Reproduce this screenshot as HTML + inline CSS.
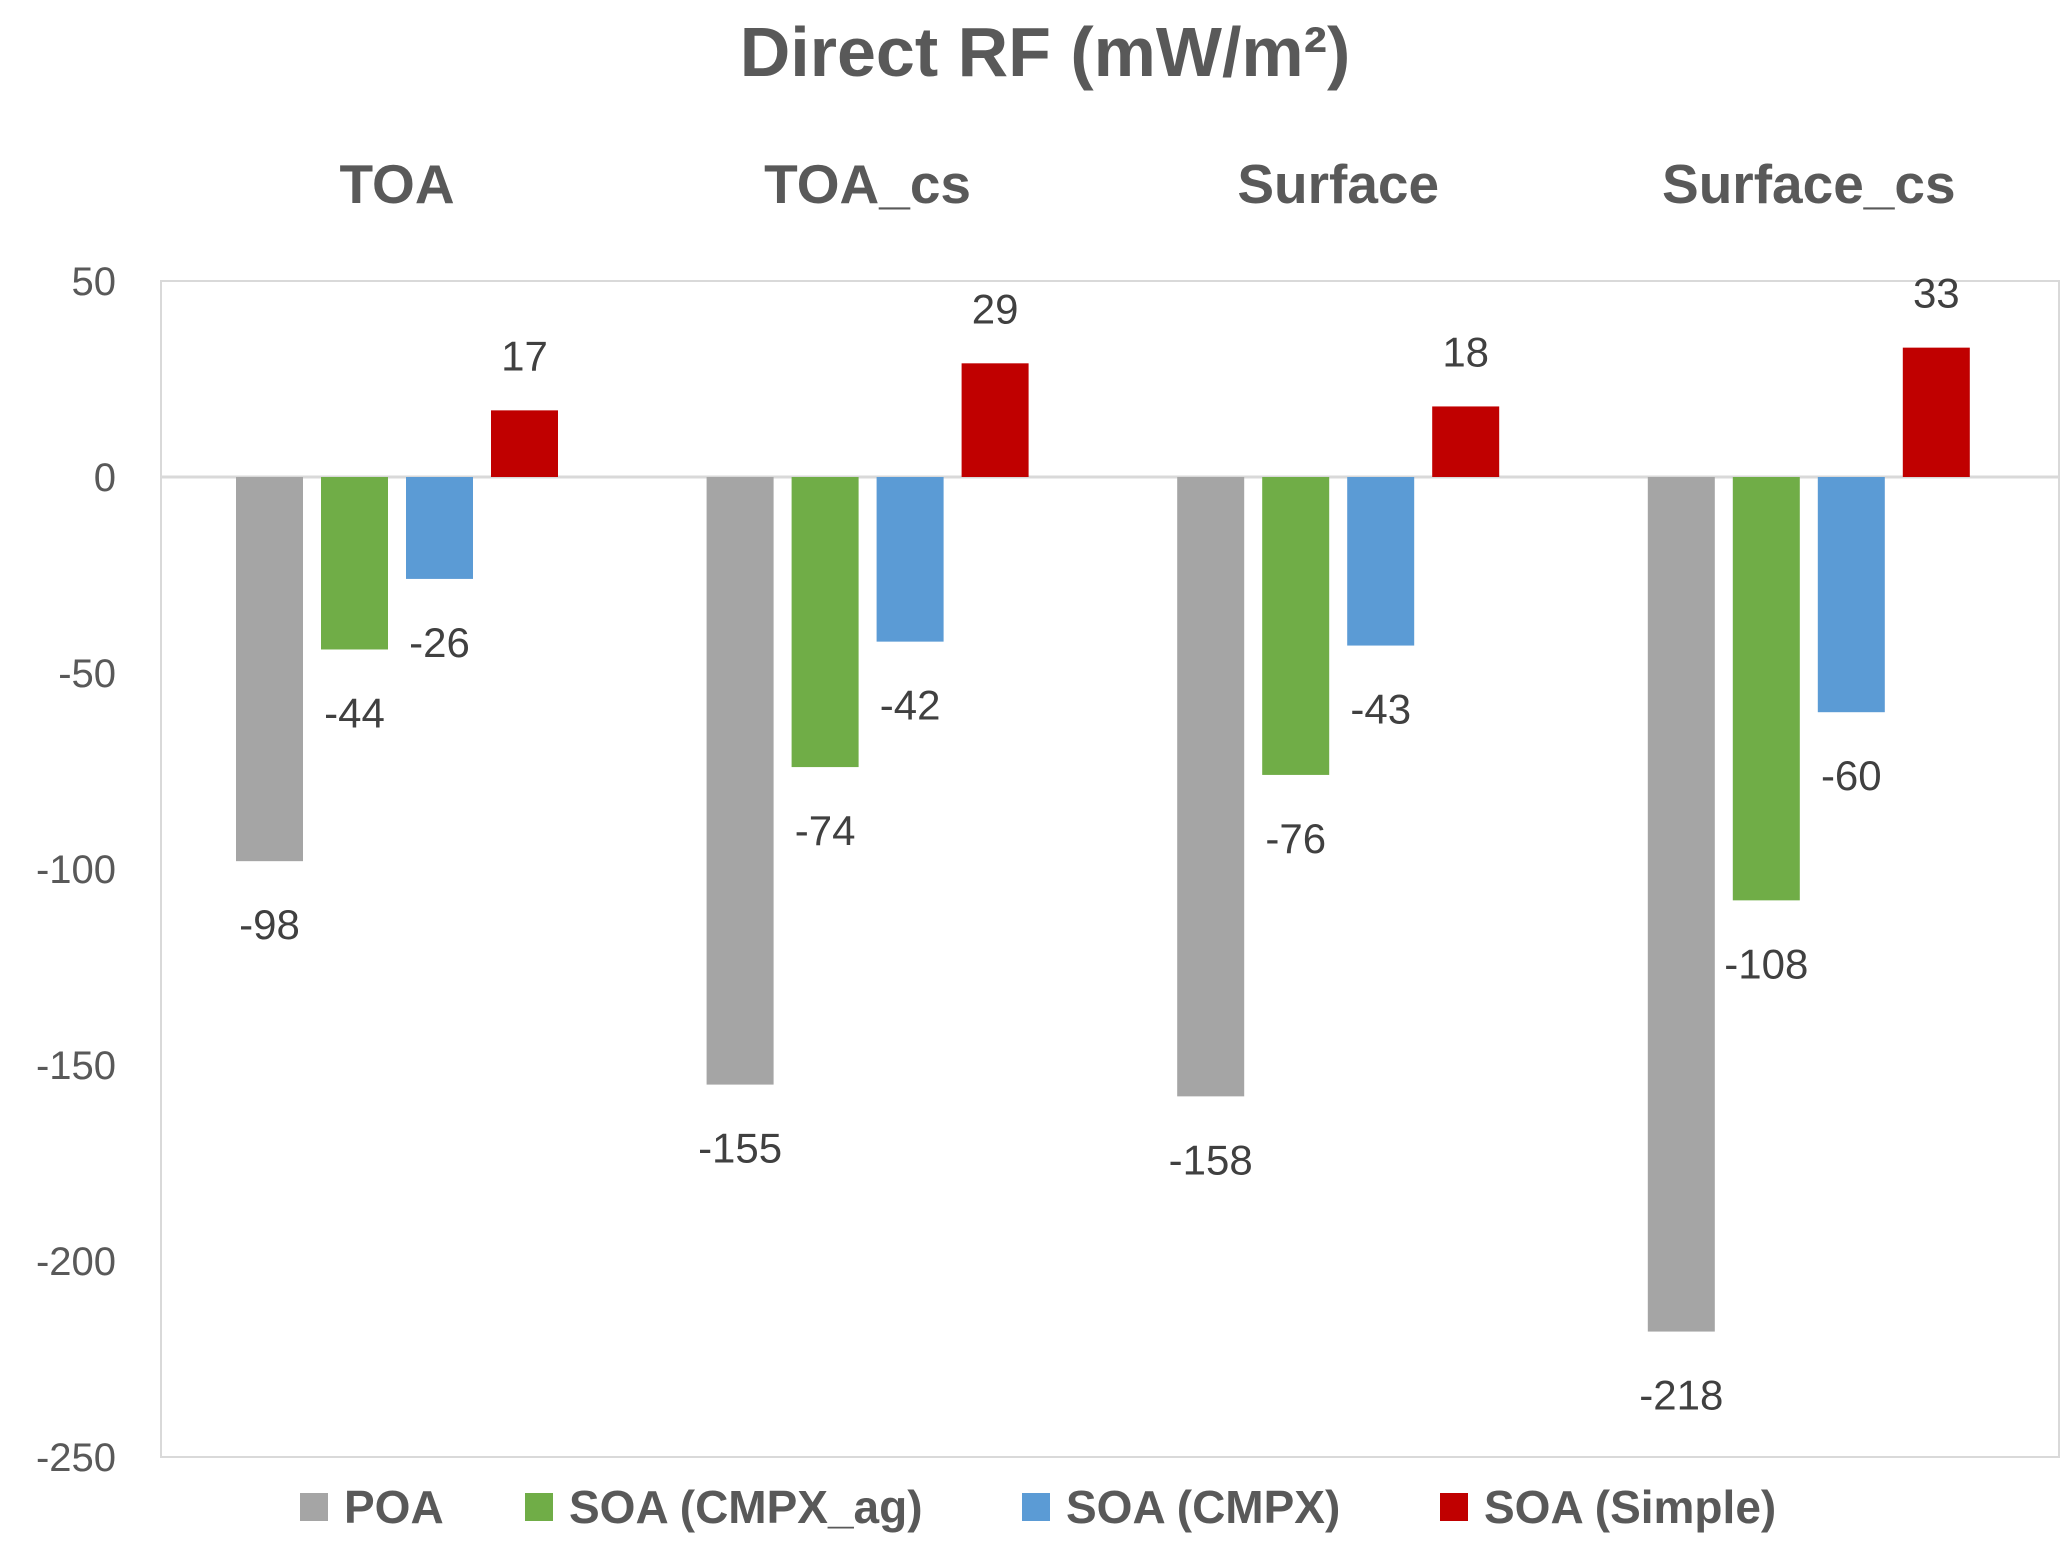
<!DOCTYPE html>
<html><head><meta charset="utf-8"><style>
html,body{margin:0;padding:0;background:#fff;}
svg{display:block;font-family:"Liberation Sans",sans-serif;}
</style></head><body>
<svg id="chart" width="2067" height="1554" viewBox="0 0 2067 1554">
<rect width="2067" height="1554" fill="#fff"/>
<text x="1045" y="76" text-anchor="middle" font-size="70" font-weight="bold" fill="#595959">Direct RF (mW/m²)</text>
<rect x="161" y="281" width="1898" height="1176" fill="none" stroke="#d9d9d9" stroke-width="2"/>
<g id="ticks"></g><g id="cats"></g><g id="bars"></g><g id="labels"></g><g id="legend"></g>
</svg>
<script>
const categories = ["TOA","TOA_cs","Surface","Surface_cs"];
const seriesNames = ["POA","SOA (CMPX_ag)","SOA (CMPX)","SOA (Simple)"];
const colors = ["#a5a5a5","#70ad47","#5b9bd5","#c00000"];
const poa = [-98,-155,-158,-218];
const soaAg = [-44,-74,-76,-108];
const soaCmpx = [-26,-42,-43,-60];
const soaSimple = [17,29,18,33];
const yTicks = [50,0,-50,-100,-150,-200,-250];
const series = [poa,soaAg,soaCmpx,soaSimple];
const NS="http://www.w3.org/2000/svg";
const pLeft=161,pRight=2059,pTop=281,pBottom=1457,yMax=50,yMin=-250;
const yScale=v=>pTop+(yMax-v)/(yMax-yMin)*(pBottom-pTop);
const groupW=470.6;
const barW=67,barStep=85,barOffset=75;
function mk(tag,attrs,parent,txt){const e=document.createElementNS(NS,tag);for(const k in attrs)e.setAttribute(k,attrs[k]);if(txt!==undefined)e.textContent=txt;document.getElementById(parent).appendChild(e);return e;}
yTicks.forEach(t=>{
  const e=mk("text",{x:116,y:yScale(t)+14,"text-anchor":"end","font-size":40,fill:"#595959"},"ticks",String(t));
  
  
});
const zl=mk("line",{x1:pLeft,x2:pRight,y1:yScale(0),y2:yScale(0),stroke:"#d9d9d9","stroke-width":3},"ticks");


categories.forEach((c,i)=>{
  const cx=pLeft+groupW*i+barOffset+(barStep*3+barW)/2;
  const e=mk("text",{x:cx,y:203,"text-anchor":"middle","font-size":55,"font-weight":"bold",fill:"#595959"},"cats",c);
  
  
  series.forEach((s,j)=>{
    const v=s[i];const bx=pLeft+groupW*i+barOffset+barStep*j;
    const y0=Math.min(yScale(0),yScale(v)),h=Math.abs(yScale(v)-yScale(0));
    const b=mk("rect",{x:bx,y:y0,width:barW,height:h,fill:colors[j]},"bars");
    
    
    const ly=v<0?yScale(v)+64+14:yScale(v)-54+14;
    const l=mk("text",{x:bx+barW/2,y:ly,"text-anchor":"middle","font-size":42,fill:"#404040"},"labels",String(v));
    
    
  });
});
const legX=[300,525,1022,1440];
seriesNames.forEach((n,j)=>{
  const r=mk("rect",{x:legX[j],y:1493,width:28,height:28,fill:colors[j]},"legend");
  
  
  const t=mk("text",{x:legX[j]+44,y:1523,"font-size":46,"font-weight":"bold",fill:"#595959"},"legend",n);
  
  
});
</script>
</body></html>
